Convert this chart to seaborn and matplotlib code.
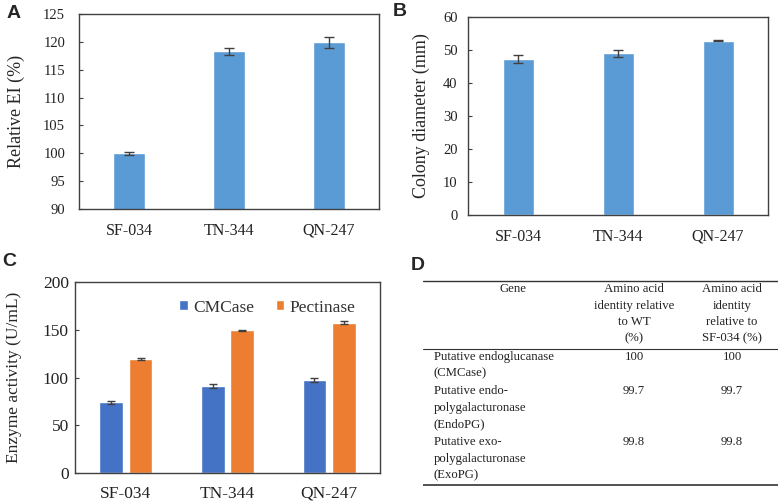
# 4-panel figure: relative EI, colony diameter, enzyme activity and identity table
import matplotlib
matplotlib.use('Agg')
import matplotlib.pyplot as plt
import seaborn as sns
import pandas as pd

strains = ['SF-034', 'TN-344', 'QN-247']

# A: relative EI (%)
ei_mean = [100.0, 118.3, 119.9]
ei_err = [0.3, 0.6, 1.0]

# B: colony diameter (mm)
dia_mean = [47.3, 49.0, 52.8]
dia_err = [1.2, 1.1, 0.2]

# C: enzyme activity (U/mL)
enzymes = ['CMCase', 'Pectinase']
cmc_mean = [74.0, 91.5, 97.0]
cmc_err = [1.5, 2.0, 2.0]
pec_mean = [119.5, 149.5, 157.5]
pec_err = [0.7, 0.6, 1.5]

# D: table
table_header = ['Gene', 'Amino acid\nidentity relative\nto WT\n(%)',
                'Amino acid\nidentity\nrelative to\nSF-034 (%)']
genes = ['Putative endoglucanase\n(CMCase)',
         'Putative endo-\npolygalacturonase\n(EndoPG)',
         'Putative exo-\npolygalacturonase\n(ExoPG)']
ident_wt = ['100', '99.7', '99.8']
ident_sf = ['100', '99.7', '99.8']

sns.set_style('white')
plt.rcParams['font.family'] = ['Liberation Serif', 'DejaVu Serif']

W, H = 779, 503
fig = plt.figure(figsize=(W / 100, H / 100), dpi=100)

def px_axes(x0, y0, x1, y1):
    return fig.add_axes([x0 / W, 1 - y1 / H, (x1 - x0) / W, (y1 - y0) / H])

def style_ax(ax, ypad, ysize, xsize, xpad):
    for s in ax.spines.values():
        s.set_visible(True)
        s.set_color('#404040')
        s.set_linewidth(1.0)
    ax.tick_params(axis='y', left=True, direction='in', length=3, width=0.8,
                   color='#404040', labelsize=ysize, labelcolor='#222222', pad=ypad)
    ax.tick_params(axis='x', bottom=False, labelsize=xsize, labelcolor='#222222', pad=xpad)
    ax.set_xlim(-0.5, 2.5)

def add_errbars(ax, means, errs):
    bars = ax.patches[:len(means)]
    xs = [p.get_x() + p.get_width() / 2 for p in bars]
    ax.errorbar(xs, means, yerr=errs, fmt='none', ecolor='#404040',
                elinewidth=1, capsize=3.5, capthick=1)

bar_color = '#5B9BD5'

# ---- A
axA = px_axes(79, 14, 379, 209)
dfA = pd.DataFrame({'strain': strains, 'val': ei_mean})
sns.barplot(data=dfA, x='strain', y='val', color=bar_color, saturation=1,
            width=0.32, errorbar=None, ax=axA)
add_errbars(axA, ei_mean, ei_err)
axA.set_ylim(90, 125)
axA.set_yticks(range(90, 126, 5))
axA.set_xlabel('')
axA.set_ylabel('Relative EI (%)', fontsize=13)
style_ax(axA, 10, 10.5, 11.5, 6.5)
axA.yaxis.set_label_coords(-0.18, 0.5)

# ---- B
axB = px_axes(468, 17, 768, 215)
dfB = pd.DataFrame({'strain': strains, 'val': dia_mean})
sns.barplot(data=dfB, x='strain', y='val', color=bar_color, saturation=1,
            width=0.31, errorbar=None, ax=axB)
add_errbars(axB, dia_mean, dia_err)
axB.set_ylim(0, 60)
axB.set_yticks(range(0, 61, 10))
axB.set_xlabel('')
axB.set_ylabel('Colony diameter (mm)', fontsize=13)
style_ax(axB, 7.5, 10.5, 11.5, 6.5)
axB.yaxis.set_label_coords(-0.125, 0.5)

# ---- C
axC = px_axes(75, 282, 380, 473)
dfC = pd.DataFrame({'strain': strains * 2,
                    'enzyme': [enzymes[0]] * 3 + [enzymes[1]] * 3,
                    'val': cmc_mean + pec_mean})
sns.barplot(data=dfC, x='strain', y='val', hue='enzyme',
            palette=['#4472C4', '#ED7D31'], saturation=1,
            width=0.58, gap=0.2, errorbar=None, ax=axC)
for cont, m, e in zip(axC.containers, [cmc_mean, pec_mean], [cmc_err, pec_err]):
    xs = [p.get_x() + p.get_width() / 2 for p in cont.patches]
    axC.errorbar(xs, m, yerr=e, fmt='none', ecolor='#404040',
                 elinewidth=1, capsize=3, capthick=1)
axC.set_ylim(0, 200)
axC.set_yticks(range(0, 201, 50))
axC.set_xlabel('')
axC.set_ylabel('Enzyme activity (U/mL)', fontsize=12.5)
style_ax(axC, 4.5, 12.5, 12.5, 5.5)
axC.yaxis.set_label_coords(-0.173, 0.5)
leg = axC.legend(loc='upper center', bbox_to_anchor=(0.63, 0.99), ncol=2,
                 frameon=False, fontsize=12.5, handlelength=0.5, handleheight=0.5,
                 handletextpad=0.3, columnspacing=1.25, labelcolor='#333333')

# ---- panel letters
for lab, x, y in [('A', 14, 14), ('B', 400, 12), ('C', 9, 261), ('D', 418, 265)]:
    fig.text(x / W, 1 - y / H, lab, family='Liberation Sans', fontweight='bold',
             fontsize=14, ha='center', va='center')

# ---- D table
axD = px_axes(423, 270, 778, 490)
axD.set_xlim(423, 778)
axD.set_ylim(490, 270)
axD.axis('off')
for yl, lw in [(281, 1.0), (349, 0.8), (485, 1.2)]:
    axD.plot([423, 778], [yl, yl], color='#333333', lw=lw)
tkw = dict(fontsize=9.2, color='#222222', linespacing=1.5, va='top')
col_x = [513, 634, 732]
for txt, cx in zip(table_header, col_x):
    axD.text(cx, 283, txt, ha='center', **tkw)
row_y = [351, 385, 436]
for g, a, b, ry in zip(genes, ident_wt, ident_sf, row_y):
    axD.text(434, ry, g, ha='left', **tkw)
    axD.text(col_x[1], ry, a, ha='center', **tkw)
    axD.text(col_x[2], ry, b, ha='center', **tkw)

fig.savefig('out.png', dpi=100)
